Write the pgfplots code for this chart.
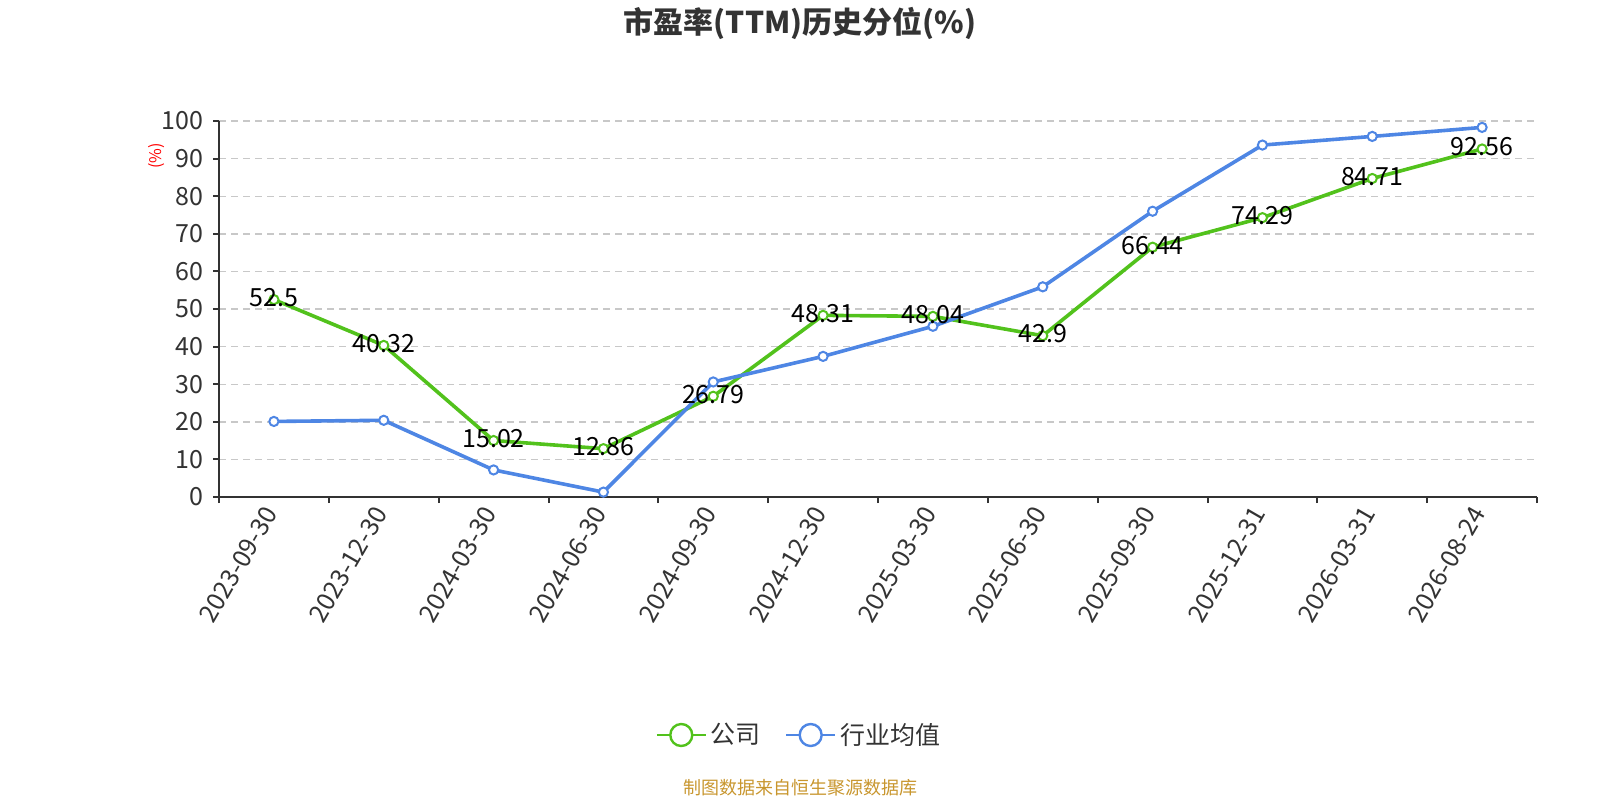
\documentclass[border=0pt]{standalone}
\usepackage{pgfplots}
\pgfplotsset{compat=1.18}
\usepackage{fontspec}
\setmainfont{Noto Sans CJK SC}
\definecolor{cgreen}{RGB}{82,194,28}
\definecolor{cblue}{RGB}{78,134,228}
\definecolor{ctxt}{RGB}{51,51,51}
\definecolor{cgrid}{RGB}{200,200,200}
\definecolor{cfoot}{RGB}{200,150,46}
\begin{document}
\begin{tikzpicture}
\path[use as bounding box] (0,0) rectangle (800pt,400pt);
\node[font=\bfseries\fontsize{15}{17}\selectfont, text=ctxt] at (400pt,388.5pt) {市盈率(TTM)历史分位(\%)};
\node[font=\fontsize{9}{10}\selectfont, text=cfoot] at (400pt,6pt) {制图数据来自恒生聚源数据库};
\node[font=\fontsize{8}{9}\selectfont, text=red, rotate=90] at (78.3pt,322pt) {(\%)};
\begin{axis}[
  at={(109.5pt,151.5pt)}, anchor=south west,
  width=659pt, height=188pt, scale only axis,
  xmin=-0.5, xmax=11.5, ymin=0, ymax=100,
  clip=false,
  /pgf/number format/assume math mode=true,
  axis x line=bottom, axis y line=left,
  axis line style={ctxt, line width=1pt, -},
  xtick={0,...,11},
  xticklabels={2023-09-30,2023-12-30,2024-03-30,2024-06-30,2024-09-30,2024-12-30,2025-03-30,2025-06-30,2025-09-30,2025-12-31,2026-03-31,2026-08-24},
  major x tick style={draw=none},
  minor xtick={-0.5,0.5,...,11.5},
  minor x tick style={ctxt, line width=1pt},
  minor tick length=3pt,
  major tick length=3pt,
  ytick={0,10,...,100},
  y tick style={ctxt, line width=1pt},
  tick align=outside,
  ymajorgrids,
  grid style={cgrid, line width=0.7pt, dash pattern=on 3.5pt off 2.5pt},
  ticklabel style={font=\fontsize{12.5}{14}\selectfont, text=ctxt},
  xticklabel style={rotate=60, anchor=east},
  yticklabel style={xshift=-1.5pt},
  legend columns=2,
  legend style={at={(0.4408,-0.633)}, anchor=center, draw=none, fill=none,
    font=\fontsize{12.5}{14}\selectfont, text=ctxt,
    /tikz/every even column/.append style={column sep=10pt}},
  legend image code/.code={
    \draw[#1, mark=none, line width=1.2pt] (0pt,0pt) -- (24.5pt,0pt);
    \draw[#1, mark=none, fill=white, line width=1.2pt] (12.25pt,0pt) circle (5.5pt);
  },
]
\addplot[cgreen, line width=1.8pt, mark=*, mark size=2.3pt, mark options={fill=white, line width=1pt}]
coordinates {(0,52.5) (1,40.32) (2,15.02) (3,12.86) (4,26.79) (5,48.31) (6,48.04) (7,42.9) (8,66.44) (9,74.29) (10,84.71) (11,92.56)};
\addlegendentry{公司}
\addplot[cblue, line width=1.8pt, mark=*, mark size=2.3pt, mark options={fill=white, line width=1pt}]
coordinates {(0,20.1) (1,20.4) (2,7.2) (3,1.3) (4,30.6) (5,37.4) (6,45.4) (7,55.9) (8,76.0) (9,93.6) (10,95.9) (11,98.3)};
\addlegendentry{行业均值}
\addplot[draw=none, mark=none, forget plot, nodes near coords, point meta=explicit symbolic,
  every node near coord/.append style={anchor=center, inner sep=0pt, yshift=1pt, font=\fontsize{12.5}{14}\selectfont, text=black}]
coordinates {(0,52.5) [52.5] (1,40.32) [40.32] (2,15.02) [15.02] (3,12.86) [12.86] (4,26.79) [26.79] (5,48.31) [48.31] (6,48.04) [48.04] (7,42.9) [42.9] (8,66.44) [66.44] (9,74.29) [74.29] (10,84.71) [84.71] (11,92.56) [92.56]};
\end{axis}
\end{tikzpicture}
\end{document}
